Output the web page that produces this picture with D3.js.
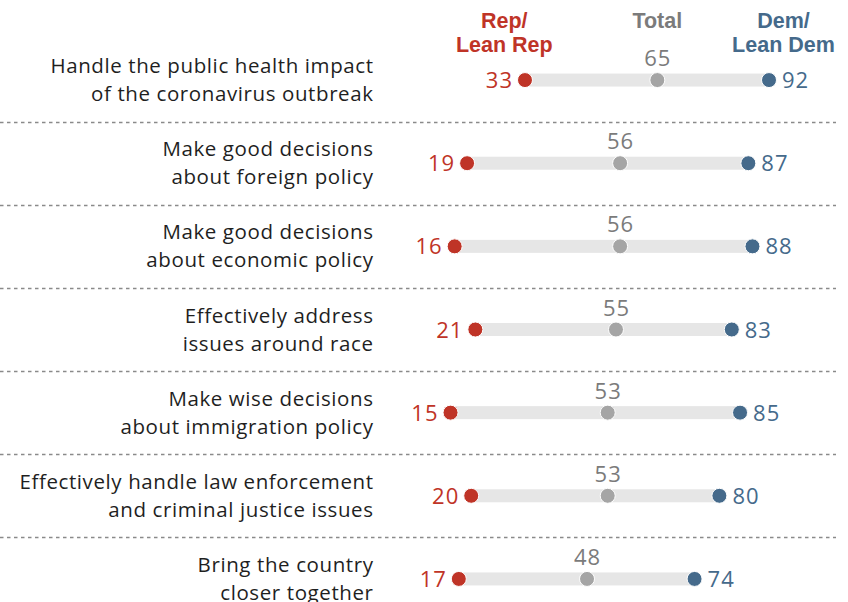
<!DOCTYPE html>
<html><head><meta charset="utf-8">
<script src="https://cdn.jsdelivr.net/npm/d3@7"></script>
<style>body{margin:0;background:#fff;} svg{display:block;}</style>
</head><body>
<svg id="chart" width="848" height="602"></svg>
<script>
const categories = [
  ["Handle the public health impact","of the coronavirus outbreak"],
  ["Make good decisions","about foreign policy"],
  ["Make good decisions","about economic policy"],
  ["Effectively address","issues around race"],
  ["Make wise decisions","about immigration policy"],
  ["Effectively handle law enforcement","and criminal justice issues"],
  ["Bring the country","closer together"]
];
const repValues = [33, 19, 16, 21, 15, 20, 17];
const totalValues = [65, 56, 56, 55, 53, 53, 48];
const demValues = [92, 87, 88, 83, 85, 80, 74];
const seriesNames = [["Rep/","Lean Rep"],["Total"],["Dem/","Lean Dem"]];

const RED="#BF3427", BLUE="#456A8B", GRAY="#A5A5A5", GRAYTXT="#7B7B7B", BAR="#E6E6E6";
const font = "'Open Sans', 'Liberation Sans', Arial, sans-serif";
const hfont = "'Liberation Sans', Arial, sans-serif";
const svg = d3.select("#chart");
const x = d3.scaleLinear().domain([0,100]).range([388.5, 802.1]);
const y = d3.scaleBand().domain(d3.range(categories.length)).range([38.5, 620.5]);
const rowY = i => y(i) + y.bandwidth()/2;

// dividers
svg.selectAll("line.div").data(d3.range(1, categories.length)).join("line")
  .attr("x1",0).attr("x2",836)
  .attr("y1", i => Math.round(y(i))+0.5).attr("y2", i => Math.round(y(i))+0.5)
  .attr("stroke","#8a8a8a").attr("stroke-width",1.6).attr("stroke-dasharray","3.5,3.5");

// headers
const headerX = [x(28), x(65), x(95.5)];
const headerColors = [RED, GRAYTXT, BLUE];
seriesNames.forEach((lines,k)=>{
  const t = svg.append("text").attr("text-anchor","middle").attr("font-family",hfont)
    .attr("font-weight","bold").attr("font-size",21.5).attr("fill",headerColors[k]);
  lines.forEach((l,j)=> t.append("tspan").attr("x",headerX[k]).attr("y",27.5+j*24.5).text(l));
});

const rows = svg.selectAll("g.row").data(categories).join("g").attr("class","row")
  .attr("transform",(d,i)=>`translate(0,${rowY(i)})`);

rows.append("text").attr("text-anchor","end").attr("font-family",font).attr("font-size",20.5)
  .attr("letter-spacing",0.6).attr("fill","#1f1f1f")
  .each(function(d){
    const t=d3.select(this);
    d.forEach((l,j)=> t.append("tspan").attr("x",373.6).attr("y",(j===0?-14:14)+7).text(l));
  });

rows.append("rect").attr("x",(d,i)=>x(repValues[i])).attr("y",-6.5)
  .attr("width",(d,i)=>x(demValues[i])-x(repValues[i])).attr("height",13).attr("fill",BAR);

rows.append("circle").attr("cx",(d,i)=>x(totalValues[i])).attr("r",7.5).attr("fill",GRAY).attr("stroke","#fff").attr("stroke-width",1);
rows.append("circle").attr("cx",(d,i)=>x(repValues[i])).attr("r",7.5).attr("fill",RED).attr("stroke","#fff").attr("stroke-width",1);
rows.append("circle").attr("cx",(d,i)=>x(demValues[i])).attr("r",7.5).attr("fill",BLUE).attr("stroke","#fff").attr("stroke-width",1);

rows.append("text").attr("x",(d,i)=>x(repValues[i])-12).attr("y",8).attr("text-anchor","end")
  .attr("font-family",font).attr("font-size",22).attr("letter-spacing",1).attr("fill",RED).text((d,i)=>repValues[i]);
rows.append("text").attr("x",(d,i)=>x(demValues[i])+13).attr("y",8).attr("text-anchor","start")
  .attr("font-family",font).attr("font-size",22).attr("letter-spacing",1).attr("fill",BLUE).text((d,i)=>demValues[i]);
rows.append("text").attr("x",(d,i)=>x(totalValues[i])+0.5).attr("y",-14).attr("text-anchor","middle")
  .attr("font-family",font).attr("font-size",22).attr("letter-spacing",1).attr("fill",GRAYTXT).text((d,i)=>totalValues[i]);
</script>
</body></html>
